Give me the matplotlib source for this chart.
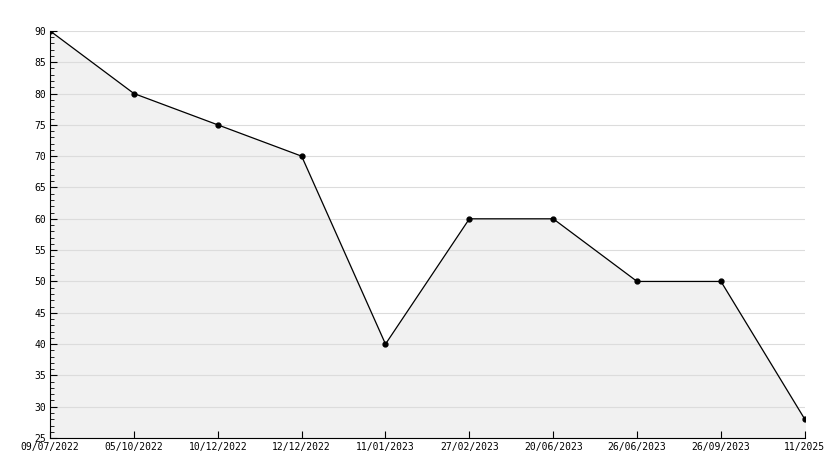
import matplotlib
matplotlib.use("Agg")
import matplotlib.pyplot as plt
from matplotlib.ticker import MultipleLocator

dates = ["09/07/2022", "05/10/2022", "10/12/2022", "12/12/2022", "11/01/2023",
         "27/02/2023", "20/06/2023", "26/06/2023", "26/09/2023", "11/2025"]
values = [90, 80, 75, 70, 40, 60, 60, 50, 50, 28]

plt.rcParams["font.family"] = ["DejaVu Sans Mono"]
fig = plt.figure(figsize=(8.34, 4.68), dpi=100)
ax = fig.add_axes([0.06, 0.064, 0.905, 0.87])
x = list(range(len(values)))
ax.fill_between(x, values, 25, color="#f1f1f1", zorder=1)
ax.plot(x, values, color="black", lw=0.9, marker="o", ms=3.5, zorder=3)
ax.set_xlim(0, len(values) - 1)
ax.set_ylim(25, 90)
ax.yaxis.set_major_locator(MultipleLocator(5))
ax.yaxis.set_minor_locator(MultipleLocator(1))
ax.grid(axis="y", color="#dcdcdc", lw=0.8, zorder=0)
ax.set_xticks(x)
ax.set_xticklabels(dates)
for s in ("top", "right"):
    ax.spines[s].set_visible(False)
ax.tick_params(axis="both", direction="in", labelsize=7, width=0.8)
ax.tick_params(axis="y", which="major", length=5, pad=3)
ax.tick_params(axis="y", which="minor", length=3, direction="in")
ax.tick_params(axis="x", length=5, pad=3)
fig.savefig("out.png", dpi=100)
